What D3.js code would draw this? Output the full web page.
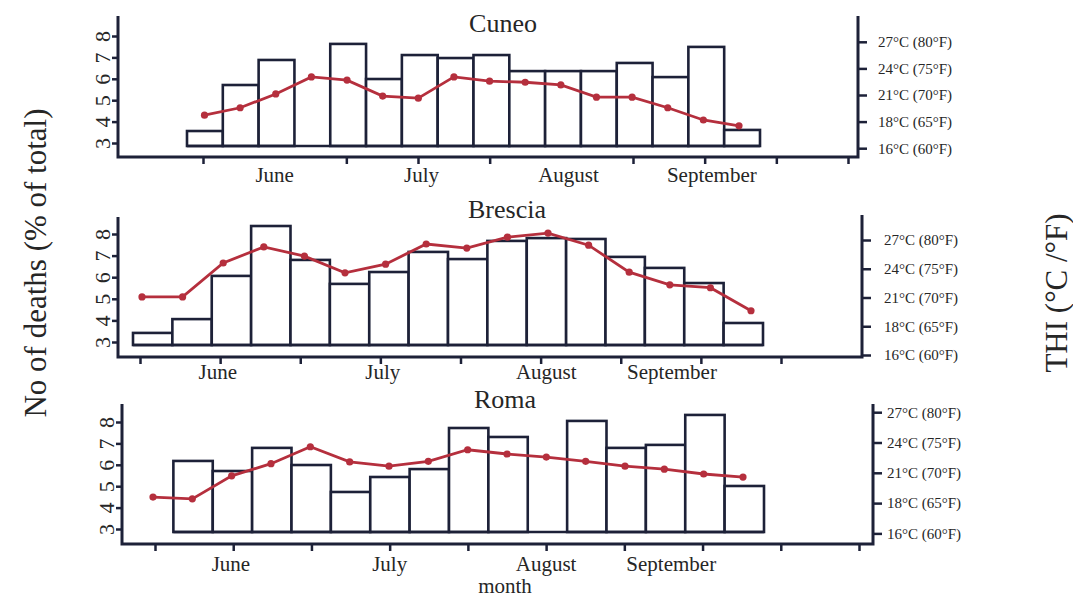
<!DOCTYPE html>
<html><head><meta charset="utf-8">
<script src="https://cdn.jsdelivr.net/npm/d3@7"></script>
<style>body{margin:0;background:#fff}svg{font-family:"Liberation Serif","Times New Roman",serif}</style>
</head><body><svg id="c" width="1073" height="598"></svg>
<script>
// ---- data ----
const months = ["June", "July", "August", "September"];
const deathTicks = [3, 4, 5, 6, 7, 8];
const thiTicksF = [60, 65, 70, 75, 80];
const thiTickLabels = ["16°C (60°F)", "18°C (65°F)", "21°C (70°F)", "24°C (75°F)", "27°C (80°F)"];
const cities = ["Cuneo", "Brescia", "Roma"];
const cuneoDeaths = [3.56, 5.71, 6.88, null, 7.63, 5.99, 7.11, 6.97, 7.11, 6.36, 6.36, 6.36, 6.74, 6.08, 7.49, 3.61];
const cuneoTHI = [66.2, 67.6, 70.2, 73.4, 72.8, 69.8, 69.4, 73.4, 72.6, 72.4, 71.9, 69.6, 69.6, 67.6, 65.3, 64.2];
const bresciaDeaths = [3.42, 4.06, 6.06, 8.37, 6.80, 5.69, 6.24, 7.17, 6.84, 7.68, 7.81, 7.77, 6.94, 6.43, 5.73, 3.88];
const bresciaTHI = [70.1, 70.1, 76.0, 78.8, 77.2, 74.3, 75.8, 79.3, 78.6, 80.5, 81.2, 79.1, 74.4, 72.2, 71.7, 67.7];
const romaDeaths = [null, 6.18, 5.71, 6.79, 5.99, 4.73, 5.43, 5.80, 7.72, 7.30, null, 8.05, 6.79, 6.93, 8.33, 5.01];
const romaTHI = [66.0, 65.7, 69.5, 71.5, 74.3, 71.8, 71.1, 71.9, 73.8, 73.1, 72.6, 71.9, 71.1, 70.6, 69.8, 69.3];
const barFloor = 2.86;

// ---- layout ----
const panels = [
  {name: cities[0], deaths: cuneoDeaths, thi: cuneoTHI,
   left: 118, right: 858, topL: 16, topR: 16, bottom: 157,
   yDeath: [143, 36], yTHI: [148.2, 41.8], bars: [187, 760], line: [204.5, 739],
   ticks: [203, 848], nTicks: 10, shown: [0, 2, 3, 4, 6, 7, 8, 9],
   monthAt: [1, 3.05, 5.1, 7.1], monthY: 182, titleX: 503, titleY: 32, rPad: 11},
  {name: cities[1], deaths: bresciaDeaths, thi: bresciaTHI,
   left: 118, right: 862, topL: 217, topR: 215, bottom: 357,
   yDeath: [342, 234], yTHI: [355, 240], bars: [133, 763], line: [142, 751],
   ticks: [140, 781], nTicks: 9, shown: [0, 1, 2, 3, 4, 5, 6, 7, 8],
   monthAt: [0.97, 3.03, 5.07, 6.64], monthY: 379, titleX: 507, titleY: 218, rPad: 13},
  {name: cities[2], deaths: romaDeaths, thi: romaTHI,
   left: 122, right: 873, topL: 404, topR: 404, bottom: 544,
   yDeath: [529, 422], yTHI: [533.4, 412.2], bars: [134, 764], line: [153, 743],
   ticks: [155, 859], nTicks: 10, shown: [0, 1, 2, 3, 4, 5, 6, 7, 8, 9],
   monthAt: [0.97, 3, 5, 6.6], monthY: 571, titleX: 505, titleY: 408, rPad: 5}
];

const NAVY = "#1d2138", RED = "#b52f3d", TXT = "#262626";
const svg = d3.select("#c");

panels.forEach(p => {
  const g = svg.append("g");
  const yD = d3.scaleLinear().domain([3, 8]).range(p.yDeath);
  const yT = d3.scaleLinear().domain([60, 80]).range(p.yTHI);
  const xBar = d3.scaleLinear().domain([0, 16]).range(p.bars);
  const xLine = d3.scaleLinear().domain([0, 15]).range(p.line);
  const xTick = d3.scaleLinear().domain([0, p.nTicks - 1]).range(p.ticks);

  // bars
  const bars = p.deaths.map((v, i) => ({v, i})).filter(d => d.v != null);
  g.selectAll("rect.bar").data(bars).join("rect").attr("class", "bar")
    .attr("x", d => xBar(d.i)).attr("width", d => xBar(d.i + 1) - xBar(d.i))
    .attr("y", d => yD(d.v)).attr("height", d => yD(barFloor) - yD(d.v))
    .attr("fill", "#fff").attr("stroke", NAVY).attr("stroke-width", 2.6);
  const first = d3.min(bars, d => d.i), last = d3.max(bars, d => d.i);
  g.append("line").attr("x1", xBar(first)).attr("x2", xBar(last + 1))
    .attr("y1", yD(barFloor)).attr("y2", yD(barFloor))
    .attr("stroke", NAVY).attr("stroke-width", 2.6);

  // THI line
  const pts = p.thi.map((v, i) => ({v, i}));
  g.append("path").datum(pts)
    .attr("d", d3.line().x(d => xLine(d.i)).y(d => yT(d.v)))
    .attr("fill", "none").attr("stroke", RED).attr("stroke-width", 2.8);
  g.selectAll("circle.pt").data(pts).join("circle").attr("class", "pt")
    .attr("cx", d => xLine(d.i)).attr("cy", d => yT(d.v)).attr("r", 3.6)
    .attr("fill", RED);

  // axes frame
  g.append("path")
    .attr("d", `M${p.left},${p.topL}V${p.bottom}H${p.right}V${p.topR}`)
    .attr("fill", "none").attr("stroke", NAVY).attr("stroke-width", 3);

  // left axis
  const lg = g.append("g").attr("transform", `translate(${p.left},0)`)
    .call(d3.axisLeft(yD).tickValues(deathTicks).tickSize(6).tickFormat(d3.format("d")));
  lg.select(".domain").remove();
  lg.selectAll(".tick line").attr("stroke", NAVY).attr("stroke-width", 2.5);
  lg.selectAll(".tick text").attr("transform", "rotate(-90)")
    .attr("x", 0).attr("y", -8).attr("dy", 0).attr("text-anchor", "middle")
    .attr("fill", TXT).style("font-size", "22px").style("font-family", "Liberation Serif");

  // right axis
  const rg = g.append("g").attr("transform", `translate(${p.right},0)`)
    .call(d3.axisRight(yT).tickValues(thiTicksF).tickSize(9).tickPadding(p.rPad)
      .tickFormat((d, i) => thiTickLabels[i]));
  rg.select(".domain").remove();
  rg.selectAll(".tick line").attr("stroke", NAVY).attr("stroke-width", 2.5);
  rg.selectAll(".tick text").attr("fill", TXT)
    .style("font-size", "15px").style("font-family", "Liberation Serif");

  // bottom axis
  const bg = g.append("g").attr("transform", `translate(0,${p.bottom})`)
    .call(d3.axisBottom(xTick).tickValues(p.shown).tickSize(7).tickFormat(""));
  bg.select(".domain").remove();
  bg.selectAll(".tick line").attr("stroke", NAVY).attr("stroke-width", 2.5);

  // month labels
  g.selectAll("text.month").data(months).join("text").attr("class", "month")
    .attr("x", (d, i) => xTick(p.monthAt[i])).attr("y", p.monthY)
    .attr("text-anchor", "middle").attr("fill", TXT)
    .style("font-size", "21px").text(d => d);

  // title
  g.append("text").attr("x", p.titleX).attr("y", p.titleY)
    .attr("text-anchor", "middle").attr("fill", TXT)
    .style("font-size", "26px").text(p.name);
});

// axis titles
svg.append("text").attr("transform", "translate(46,263) rotate(-90)")
  .attr("text-anchor", "middle").attr("fill", TXT).style("font-size", "31px")
  .text("No of deaths (% of total)");
svg.append("text").attr("transform", "translate(1067,293) rotate(-90)")
  .attr("text-anchor", "middle").attr("fill", TXT).style("font-size", "31px")
  .text("THI (°C /°F)");
svg.append("text").attr("x", 505).attr("y", 593)
  .attr("text-anchor", "middle").attr("fill", TXT).style("font-size", "21px")
  .text("month");
</script>
</body></html>
